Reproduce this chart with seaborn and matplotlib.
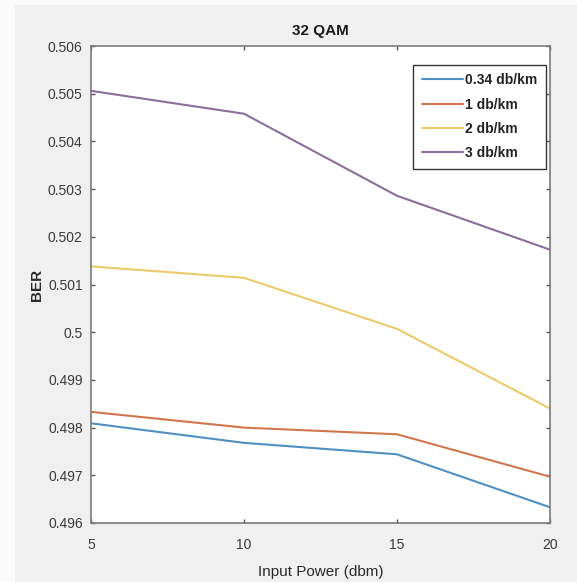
import matplotlib
matplotlib.use("Agg")
import matplotlib.pyplot as plt
import seaborn as sns
import pandas as pd
from matplotlib.patches import Rectangle
from matplotlib.lines import Line2D

# ---- data ----
input_power = [5, 10, 15, 20]
series_names = ["0.34 db/km", "1 db/km", "2 db/km", "3 db/km"]
ber_034 = [0.49809, 0.49768, 0.49744, 0.49633]
ber_1 = [0.49833, 0.49800, 0.49786, 0.49697]
ber_2 = [0.50138, 0.50114, 0.50007, 0.49840]
ber_3 = [0.50506, 0.50458, 0.50286, 0.50173]
y_ticks = [0.496, 0.497, 0.498, 0.499, 0.5, 0.501, 0.502, 0.503, 0.504, 0.505, 0.506]
y_tick_labels = ["0.496", "0.497", "0.498", "0.499", "0.5", "0.501", "0.502",
                 "0.503", "0.504", "0.505", "0.506"]
x_ticks = [5, 10, 15, 20]

colors = {"0.34 db/km": "#4f8fc2", "1 db/km": "#d2754f",
          "2 db/km": "#ecca6a", "3 db/km": "#8d6d9c"}

rows = []
for name, vals in zip(series_names, [ber_034, ber_1, ber_2, ber_3]):
    for x, v in zip(input_power, vals):
        rows.append({"Input Power (dbm)": x, "BER": v, "series": name})
df = pd.DataFrame(rows)

sns.set_style("ticks")
FONT = ["Liberation Sans", "DejaVu Sans"]
plt.rcParams["font.family"] = FONT

fig = plt.figure(figsize=(5.77, 5.82), dpi=100, facecolor="#f0f0f0")
# page background strips (left and top)
fig.patches.append(Rectangle((0, 0), 15 / 577, 1, transform=fig.transFigure,
                             facecolor="#fbfbfb", edgecolor="none", zorder=0))
fig.patches.append(Rectangle((0, 1 - 5 / 582), 1, 5 / 582, transform=fig.transFigure,
                             facecolor="#fbfbfb", edgecolor="none", zorder=0))

ax = fig.add_axes([91 / 577, 1 - 523 / 582, (550 - 91) / 577, (523 - 46) / 582])
ax.set_facecolor("white")

sns.lineplot(data=df, x="Input Power (dbm)", y="BER", hue="series",
             hue_order=series_names, palette=colors, linewidth=1.5, ax=ax,
             legend=False)

ax.set_xlim(5, 20)
ax.set_ylim(0.496, 0.506)
ax.set_xticks(x_ticks)
ax.set_xticklabels([str(t) for t in x_ticks])
ax.set_yticks(y_ticks)
ax.set_yticklabels(y_tick_labels)

for s in ax.spines.values():
    s.set_visible(True)
    s.set_color("#7a7a7a")
    s.set_linewidth(1.2)
ax.tick_params(direction="in", length=3, width=1, colors="#555555",
               top=True, right=True, labelsize=10, labelcolor="#3a3a3a")
ax.tick_params(axis="x", pad=11)
ax.tick_params(axis="y", pad=6)

ax.set_title("32 QAM", fontsize=11, fontweight="bold", color="#1a1a1a", pad=8)
ax.set_xlabel("Input Power (dbm)", fontsize=11, color="#2a2a2a", labelpad=9)
ax.set_ylabel("BER", fontsize=11, fontweight="bold", color="#2a2a2a", labelpad=3)

handles = [Line2D([0], [0], color=colors[n], lw=1.5) for n in series_names]
leg = ax.legend(handles, series_names, loc="upper right",
                bbox_to_anchor=(546 / 577, 1 - 65 / 582), bbox_transform=fig.transFigure,
                frameon=True, fancybox=False, framealpha=1, edgecolor="#333333",
                handlelength=3.0, handletextpad=0.15, labelspacing=0.74,
                borderpad=0.6, borderaxespad=0,
                prop={"family": FONT, "size": 10, "weight": "bold"})
leg.get_frame().set_linewidth(1.0)
for t in leg.get_texts():
    t.set_color("#222222")

fig.savefig("out.png", dpi=100, facecolor=fig.get_facecolor())
